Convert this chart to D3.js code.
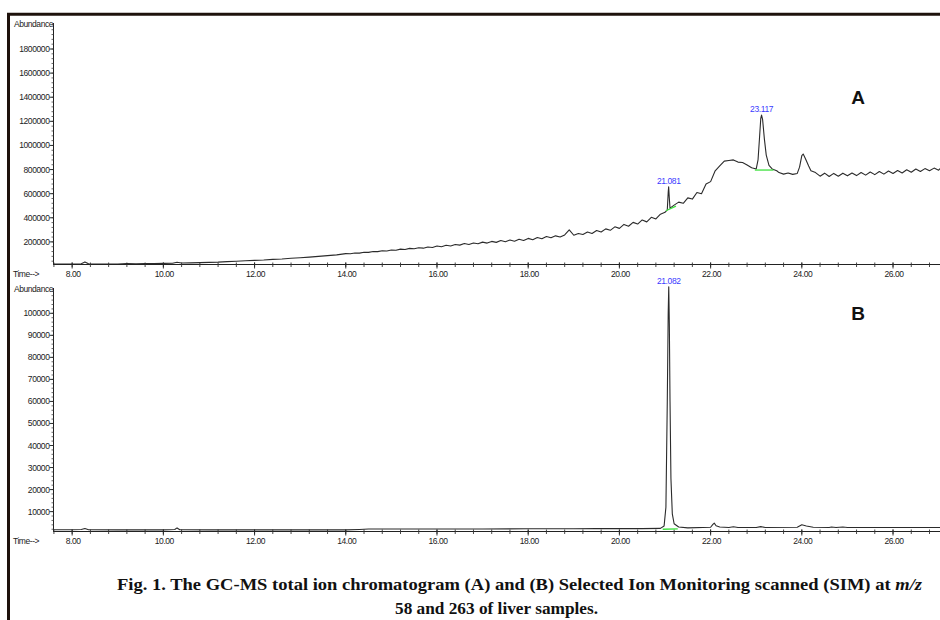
<!DOCTYPE html>
<html><head><meta charset="utf-8">
<script src="https://cdn.jsdelivr.net/npm/d3@7"></script>
<style>
html,body{margin:0;padding:0;background:#fff;}
svg{display:block;}
</style>
</head><body>
<svg id="chart" width="940" height="620"></svg>
<script>
// ---------- DATA ----------
const timeTicks = [8, 10, 12, 14, 16, 18, 20, 22, 24, 26];
const ticksA = [200000, 400000, 600000, 800000, 1000000, 1200000, 1400000, 1600000, 1800000];
const ticksB = [10000, 20000, 30000, 40000, 50000, 60000, 70000, 80000, 90000, 100000];

// Panel A: total ion chromatogram [time (min), abundance]
const ticA = [
 [7.58,17000],[7.8,16000],[8.0,17000],[8.2,19000],[8.28,34000],[8.36,18000],[8.6,16000],[9.0,17000],
 [9.2,21000],[9.4,18000],[9.6,20000],[9.8,21000],[10.0,22000],[10.2,23000],[10.3,31000],[10.4,25000],
 [10.6,26000],[10.8,28000],[11.0,30000],[11.2,32000],[11.4,36000],[11.6,39000],[11.8,43000],[12.0,47000],
 [12.2,50000],[12.4,55000],[12.6,58000],[12.8,64000],[13.0,69000],[13.2,74000],[13.4,80000],[13.6,86000],
 [13.8,92000],[14.0,103000],[14.1,101000],[14.2,108000],[14.3,107000],[14.4,114000],[14.5,113000],
 [14.6,120000],[14.7,119000],[14.8,126000],[14.9,125000],[15.0,133000],[15.1,131000],[15.2,140000],
 [15.3,137000],[15.4,146000],[15.5,143000],[15.6,152000],[15.7,148000],[15.8,158000],[15.9,154000],
 [16.0,166000],[16.1,160000],[16.2,172000],[16.3,166000],[16.4,178000],[16.5,173000],[16.6,186000],
 [16.7,178000],[16.8,191000],[16.9,184000],[17.0,198000],[17.1,190000],[17.2,204000],[17.3,196000],
 [17.4,211000],[17.5,201000],[17.6,216000],[17.7,206000],[17.8,222000],[17.9,212000],[18.0,229000],
 [18.1,218000],[18.2,236000],[18.3,226000],[18.4,244000],[18.5,234000],[18.6,250000],[18.7,240000],
 [18.8,258000],[18.9,300000],[19.0,255000],[19.1,270000],[19.2,262000],[19.3,282000],[19.4,270000],
 [19.5,295000],[19.6,282000],[19.7,308000],[19.8,296000],[19.9,325000],[20.0,312000],[20.1,345000],
 [20.2,330000],[20.3,362000],[20.4,348000],[20.5,382000],[20.6,366000],[20.7,404000],[20.8,390000],
 [20.9,430000],[21.0,445000],[21.05,465000],[21.07,610000],[21.08,657000],[21.095,560000],[21.11,480000],
 [21.2,505000],[21.3,530000],[21.4,520000],[21.5,565000],[21.6,555000],[21.7,610000],[21.8,600000],
 [21.9,680000],[22.0,700000],[22.1,790000],[22.2,830000],[22.3,870000],[22.4,875000],[22.5,880000],
 [22.6,862000],[22.7,858000],[22.8,838000],[22.9,815000],[23.0,805000],[23.04,880000],[23.07,1050000],
 [23.1,1225000],[23.117,1252000],[23.14,1215000],[23.18,1050000],[23.22,920000],[23.28,835000],
 [23.35,805000],[23.45,790000],[23.5,775000],[23.6,762000],[23.7,772000],[23.8,760000],[23.9,768000],
 [23.95,820000],[24.0,915000],[24.03,929000],[24.08,890000],[24.15,830000],[24.2,790000],[24.3,775000],
 [24.4,745000],[24.5,770000],[24.6,742000],[24.7,768000],[24.8,745000],[24.9,770000],[25.0,748000],
 [25.1,772000],[25.2,750000],[25.3,776000],[25.4,754000],[25.5,780000],[25.6,758000],[25.7,784000],
 [25.8,762000],[25.9,788000],[26.0,768000],[26.1,792000],[26.2,772000],[26.3,798000],[26.4,778000],
 [26.5,805000],[26.6,784000],[26.7,808000],[26.8,790000],[26.9,812000],[27.0,795000],[27.05,815000]
];

// Panel B: SIM trace (m/z 58 and 263)
const simB = [
 [7.58,1800],[8.0,1800],[8.2,1900],[8.28,2300],[8.36,1800],[9.0,1700],[10.0,1700],[10.25,1900],
 [10.3,2600],[10.36,1800],[11.0,1700],[12.0,1700],[13.0,1700],[14.0,1700],[14.3,1900],[14.5,2100],
 [15.0,2100],[16.0,2100],[17.0,2100],[18.0,2200],[19.0,2200],[19.5,2300],[20.0,2300],[20.5,2300],
 [20.9,2400],[20.98,3500],[21.02,12000],[21.05,60000],[21.07,100000],[21.082,112000],[21.095,95000],
 [21.11,60000],[21.13,25000],[21.16,9000],[21.2,4500],[21.3,3000],[21.5,2600],[22.0,2900],[22.05,4200],
 [22.08,4800],[22.12,3600],[22.2,3000],[22.4,2800],[22.5,3100],[22.6,2800],[23.0,2800],[23.1,3200],
 [23.2,2800],[23.9,2900],[24.0,4000],[24.1,3500],[24.25,2900],[24.6,2800],[24.65,3000],[24.75,2800],
 [24.9,3000],[25.0,2800],[26.0,2800],[27.05,2800]
];

// Integration baselines (green) and peak labels
const baselinesA = [[[21.02,458000],[21.24,497000]], [[22.97,796000],[23.38,796000]]];
const baselinesB = [[[20.95,2000],[21.28,2200]]];
const peakLabelsA = [{t:21.081, v:657000, label:"21.081"}, {t:23.117, v:1252000, label:"23.117"}];
const peakLabelsB = [{t:21.082, v:112000, label:"21.082"}];

// ---------- DRAW ----------
const svg = d3.select("#chart");
const x = d3.scaleLinear().domain([7.58, 27.03]).range([53, 940]);
const yA = d3.scaleLinear().domain([16600, 1800000]).range([264, 49]);
const yB = d3.scaleLinear().domain([1200, 100000]).range([531, 313.3]);

// outer frame
svg.append("line").attr("x1",8.5).attr("x2",8.5).attr("y1",13).attr("y2",620)
  .attr("stroke","#1e120c").attr("stroke-width",3);
svg.append("line").attr("x1",7).attr("x2",940).attr("y1",14.3).attr("y2",14.3)
  .attr("stroke","#1e120c").attr("stroke-width",3);

function panel(y, yTicks, yTop, data, baselines, labels, letter, letterY, minorStep, clipId){
  const y0 = y.range()[0];
  const g = svg.append("g");
  svg.append("clipPath").attr("id", clipId).append("rect")
    .attr("x",53).attr("y",yTop-6).attr("width",887).attr("height",y0-yTop+6);
  g.append("line").attr("x1",53.5).attr("x2",53.5).attr("y1",yTop).attr("y2",y0)
    .attr("stroke","#222").attr("stroke-width",1);
  const ymin = y.invert(y0), ymax = y.invert(yTop);
  const minor = d3.range(Math.ceil(ymin/minorStep)*minorStep, ymax, minorStep);
  g.selectAll(".ymin").data(minor).join("line")
    .attr("x1",51.5).attr("x2",53.5).attr("y1",d=>y(d)).attr("y2",d=>y(d))
    .attr("stroke","#444").attr("stroke-width",0.8);
  g.selectAll(".ymaj").data(yTicks).join("line")
    .attr("x1",49.5).attr("x2",53.5).attr("y1",d=>y(d)).attr("y2",d=>y(d))
    .attr("stroke","#222").attr("stroke-width",0.9);
  g.selectAll(".ylab").data(yTicks).join("text")
    .attr("x",49.5).attr("y",d=>y(d)+3)
    .attr("text-anchor","end")
    .attr("font-family","Liberation Sans, Arial, sans-serif")
    .attr("font-size","8.5px").attr("letter-spacing","-0.4")
    .attr("fill","#222").text(d=>d3.format("d")(d));
  g.append("text").attr("x",53).attr("y",yTop+3.5).attr("text-anchor","end")
    .attr("font-family","Liberation Sans, Arial, sans-serif")
    .attr("font-size","8.5px").attr("letter-spacing","-0.45").attr("fill","#222").text("Abundance");
  g.append("line").attr("x1",53).attr("x2",940).attr("y1",y0+0.5).attr("y2",y0+0.5)
    .attr("stroke","#222").attr("stroke-width",1);
  const xminor = d3.range(7.6, 27.05, 0.4);
  g.selectAll(".xmin").data(xminor).join("line")
    .attr("x1",d=>x(d)).attr("x2",d=>x(d)).attr("y1",y0-1.5).attr("y2",y0+3)
    .attr("stroke","#333").attr("stroke-width",0.9);
  g.selectAll(".xmaj").data(timeTicks).join("line")
    .attr("x1",d=>x(d)).attr("x2",d=>x(d)).attr("y1",y0-1.5).attr("y2",y0+4.5)
    .attr("stroke","#222").attr("stroke-width",0.9);
  g.selectAll(".xlab").data(timeTicks).join("text")
    .attr("x",d=>x(d)+1).attr("y",y0+12.5).attr("text-anchor","middle")
    .attr("font-family","Liberation Sans, Arial, sans-serif")
    .attr("font-size","8.5px").attr("letter-spacing","-0.45").attr("fill","#222")
    .text(d=>d3.format(".2f")(d));
  g.append("text").attr("x",13).attr("y",y0+12.5)
    .attr("font-family","Liberation Sans, Arial, sans-serif")
    .attr("font-size","8.5px").attr("letter-spacing","-0.45").attr("fill","#222").text("Time-->");
  const line = d3.line().x(d=>x(d[0])).y(d=>y(d[1]));
  g.append("path").datum(data).attr("d",line).attr("fill","none")
    .attr("stroke","#2b2b2b").attr("stroke-width",1.1).attr("stroke-linejoin","round")
    .attr("clip-path",`url(#${clipId})`);
  g.selectAll(".bl").data(baselines).join("path").attr("d",line)
    .attr("fill","none").attr("stroke","#3ee03e").attr("stroke-width",1.3);
  g.selectAll(".pl").data(labels).join("text")
    .attr("x",d=>x(d.t)).attr("y",d=>y(d.v)-3).attr("text-anchor","middle")
    .attr("font-family","Liberation Sans, Arial, sans-serif")
    .attr("font-size","8.5px").attr("letter-spacing","-0.4").attr("fill","#3a3aff")
    .text(d=>d.label);
  g.append("text").attr("x",858).attr("y",letterY).attr("text-anchor","middle")
    .attr("font-family","Liberation Sans, Arial, sans-serif").attr("font-weight","bold")
    .attr("font-size","19px").attr("fill","#111").text(letter);
}

panel(yA, ticksA, 23, ticA, baselinesA, peakLabelsA, "A", 104, 40000, "clipA");
panel(yB, ticksB, 288, simB, baselinesB, peakLabelsB, "B", 320, 2000, "clipB");

// caption
const cap = svg.append("g").attr("font-family","Liberation Serif, Times New Roman, serif")
  .attr("font-weight","bold").attr("font-size","16.5px").attr("fill","#111");
const t1 = cap.append("text").attr("x",117).attr("y",589.5)
  .attr("textLength",805).attr("lengthAdjust","spacingAndGlyphs");
t1.append("tspan").text("Fig. 1. The GC-MS total ion chromatogram (A) and (B) Selected Ion Monitoring scanned (SIM) at ");
t1.append("tspan").attr("font-style","italic").text("m/z");
cap.append("text").attr("x",395).attr("y",614)
  .attr("textLength",203).attr("lengthAdjust","spacingAndGlyphs")
  .text("58 and 263 of liver samples.");
</script>
</body></html>
